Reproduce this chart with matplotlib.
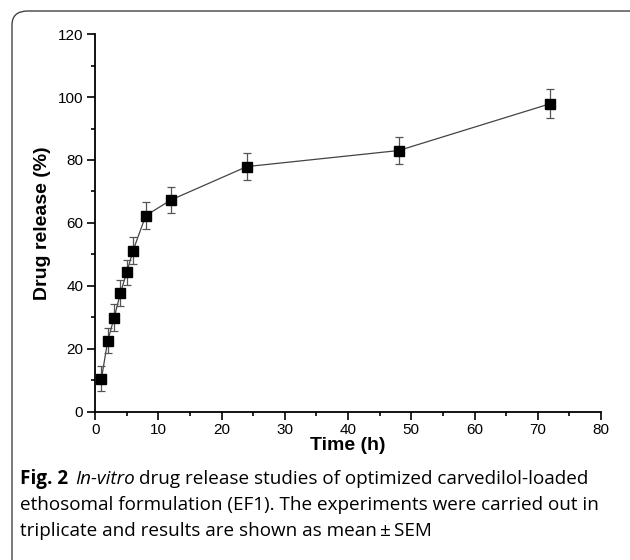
import matplotlib.pyplot as plt
from matplotlib.patches import FancyBboxPatch
from matplotlib.ticker import MultipleLocator

time_h = [1, 2, 3, 4, 5, 6, 8, 12, 24, 48, 72]
release = [10.5, 22.6, 29.8, 37.7, 44.3, 51.2, 62.3, 67.3, 77.9, 83.0, 97.9]
sem = [4.0, 4.0, 4.3, 4.0, 3.9, 4.2, 4.4, 4.1, 4.2, 4.3, 4.6]

fig = plt.figure(figsize=(6.3, 5.6), dpi=100)
ax = fig.add_axes([0.151, 0.265, 0.803, 0.674])

ax.errorbar(time_h, release, yerr=sem, fmt='s', color='black', ms=6.5,
            ecolor='#555555', elinewidth=0.9, capsize=2.6, capthick=0.9, zorder=3)
ax.plot(time_h, release, '-', color='#444444', lw=0.9, zorder=2)

ax.set_xlim(0, 80)
ax.set_ylim(0, 120)
ax.xaxis.set_major_locator(MultipleLocator(10))
ax.xaxis.set_minor_locator(MultipleLocator(5))
ax.yaxis.set_major_locator(MultipleLocator(20))
ax.yaxis.set_minor_locator(MultipleLocator(10))
ax.spines['top'].set_visible(False)
ax.spines['right'].set_visible(False)
for s in ['left', 'bottom']:
    ax.spines[s].set_linewidth(1.3)
ax.tick_params(which='major', direction='out', length=5.5, width=1.2, labelsize=11, pad=3)
ax.tick_params(which='minor', direction='out', length=3, width=1.2)
for lab in ax.get_xticklabels() + ax.get_yticklabels():
    lab.set_family('Liberation Sans')

ax.set_xlabel('Time (h)', fontsize=14, fontweight='bold', family='Liberation Sans', labelpad=0)
ax.set_ylabel('Drug release (%)', fontsize=14, fontweight='bold', family='Liberation Sans', labelpad=5)

# rounded frame, cut off at right and bottom
frame = FancyBboxPatch((12 / 630, -0.05), 1.05, 1.05 - 11 / 560,
                       boxstyle='round,pad=0,rounding_size=0.025',
                       transform=fig.transFigure, fill=False,
                       edgecolor='#444444', lw=1.0)
fig.patches.append(frame)

# caption
cap_font = 'Open Sans'
cap_size = 13.6
fig.canvas.draw()
r = fig.canvas.get_renderer()
x0 = 20 / 630
y1 = 1 - 479 / 560
t = fig.text(x0, y1, 'Fig. 2', fontsize=cap_size, fontweight='bold', family=cap_font, va='center')
bb = t.get_window_extent(r)
x = bb.x1 / 630 + 0.012
t = fig.text(x, y1, 'In-vitro', fontsize=cap_size, style='italic', family=cap_font, va='center')
bb = t.get_window_extent(r)
x = bb.x1 / 630 + 0.006
fig.text(x, y1, 'drug release studies of optimized carvedilol-loaded',
         fontsize=cap_size, family=cap_font, va='center')
fig.text(x0, 1 - 505 / 560, 'ethosomal formulation (EF1). The experiments were carried out in',
         fontsize=cap_size, family=cap_font, va='center')
fig.text(x0, 1 - 531 / 560, 'triplicate and results are shown as mean\u2009\u00b1\u2009SEM',
         fontsize=cap_size, family=[cap_font, 'DejaVu Sans'], va='center')

fig.savefig('out.png', dpi=100)
